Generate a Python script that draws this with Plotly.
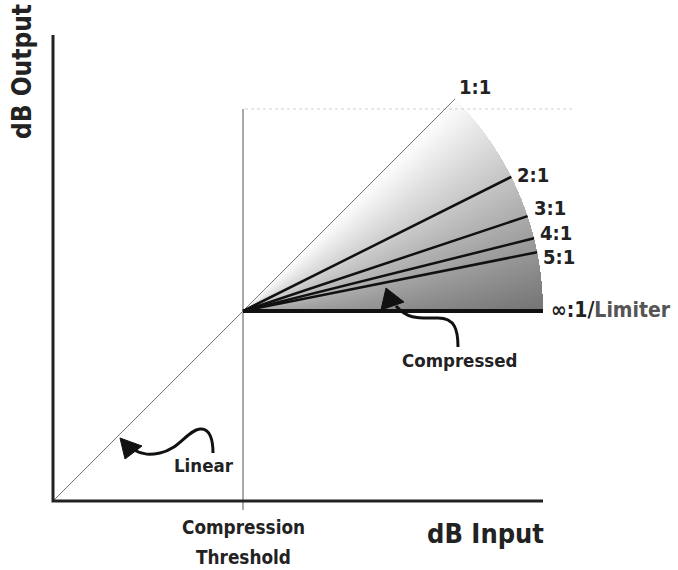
import numpy as np
import plotly.graph_objects as go

# ---- data ----
THRESHOLD = 190          # compression threshold (input = output level)
RADIUS = 300             # length of the ratio lines from the threshold
AXIS_MAX_X = 490
AXIS_MAX_Y = 466
TOP_GUIDE = 392          # faint guide level at top
RATIOS = [2, 3, 4, 5]
RATIO_LABELS = ["2:1", "3:1", "4:1", "5:1"]
LABEL_NUDGE_Y = [2, 8, 5, -5]
FONT = "DejaVu Sans Condensed, Liberation Sans Narrow, Roboto Condensed, DejaVu Sans"
DARK = "#222222"

T, R = THRESHOLD, RADIUS
fig = go.Figure()

# ---- gradient wedge (heatmap masked to the sector) ----
xs = np.arange(T, T + R + 1) + 0.5
top = T + R * np.sin(np.pi / 4)
ys = np.arange(T, int(top) + 2) + 0.5
X, Y = np.meshgrid(xs, ys)
dx, dy = X - T, Y - T
rr = np.hypot(dx, dy)
ang = np.arctan2(dy, dx)
tt = np.clip(ang / (np.pi / 4), 0, 1)
d = (1 - tt) ** 0.95 * (0.65 + 0.35 * rr / R)
lev = 255 - 140 * d
mask = (dy >= 0) & (ang <= np.pi / 4 + 0.003) & (rr <= R)
z = [[float(lev[i, j]) if mask[i, j] else None for j in range(len(xs))] for i in range(len(ys))]
fig.add_trace(go.Heatmap(x=xs, y=ys, z=z, zmin=0, zmax=255,
                         colorscale=[[0, "rgb(0,0,0)"], [1, "rgb(255,255,255)"]],
                         showscale=False, hoverinfo="skip"))

# ---- guide lines ----
fig.add_trace(go.Scatter(x=[T + 2, T + 330], y=[TOP_GUIDE, TOP_GUIDE], mode="lines",
                         line=dict(color="#cfcfcf", width=1, dash="dot"), hoverinfo="skip"))
fig.add_trace(go.Scatter(x=[T, T], y=[-9, TOP_GUIDE], mode="lines",
                         line=dict(color="#555555", width=1), hoverinfo="skip"))
# 1:1 line
e45 = T + R * np.cos(np.pi / 4)
fig.add_trace(go.Scatter(x=[0, e45], y=[0, e45], mode="lines",
                         line=dict(color="#777777", width=1), hoverinfo="skip"))
# infinity line
fig.add_trace(go.Scatter(x=[T, T + R], y=[T, T], mode="lines",
                         line=dict(color="#111111", width=4), hoverinfo="skip"))
# ratio lines
ann = []
for ratio, lab, ny in zip(RATIOS, RATIO_LABELS, LABEL_NUDGE_Y):
    th = np.arctan(1.0 / ratio)
    ex, ey = T + R * np.cos(th), T + R * np.sin(th)
    fig.add_trace(go.Scatter(x=[T, ex], y=[T, ey], mode="lines",
                             line=dict(color="#111111", width=2.5), hoverinfo="skip"))
    ann.append(dict(x=ex + 4, y=ey + ny, text="<b>%s</b>" % lab, xanchor="left",
                    yanchor="middle", font=dict(size=20)))

# axes
fig.add_trace(go.Scatter(x=[0, 0, AXIS_MAX_X], y=[AXIS_MAX_Y, 0, 0], mode="lines",
                         line=dict(color=DARK, width=3), hoverinfo="skip"))

# ---- curvy arrows (pixel-like data coordinates) ----
def P(px, py):
    return "%.1f,%.1f" % (px - 53, 501 - py)

shapes = [
    dict(type="path", xref="x", yref="y",
         path="M " + P(458, 347) + " C " + P(458, 330) + " " + P(455, 318) + " " + P(438, 318)
              + " C " + P(420, 318) + " " + P(408, 320) + " " + P(396, 306),
         line=dict(color="#111111", width=3)),
    dict(type="path", xref="x", yref="y",
         path="M " + P(386, 288) + " L " + P(381, 310) + " L " + P(404, 302) + " Z",
         fillcolor="#111111", line=dict(color="#111111", width=1)),
    dict(type="path", xref="x", yref="y",
         path="M " + P(213, 453) + " C " + P(213, 440) + " " + P(210, 428) + " " + P(200, 429)
              + " C " + P(188, 430) + " " + P(178, 450) + " " + P(160, 453)
              + " C " + P(150, 455) + " " + P(143, 455) + " " + P(134, 450),
         line=dict(color="#111111", width=3)),
    dict(type="path", xref="x", yref="y",
         path="M " + P(120, 438) + " L " + P(125, 459) + " L " + P(142, 446) + " Z",
         fillcolor="#111111", line=dict(color="#111111", width=1)),
]

# ---- text ----
ann += [
    dict(x=e45 + 20, y=e45 + 12, text="<b>1:1</b>", font=dict(size=20)),
    dict(x=T + R + 6, y=T + 1, text="<b>∞:1/<span style='color:#555555'>Limiter</span></b>",
         xanchor="left", yanchor="middle", font=dict(size=21)),
    dict(x=406, y=141, text="<b>Compressed</b>", font=dict(size=18.5)),
    dict(x=151, y=36, text="<b>Linear</b>", font=dict(size=18.5)),
    dict(x=T, y=-26, text="<b>Compression</b>", font=dict(size=18.8)),
    dict(x=T, y=-56, text="<b>Threshold</b>", font=dict(size=18.8)),
    dict(x=432, y=-32, text="<b>dB Input</b>", font=dict(size=27)),
    dict(x=-31, y=429, text="<b>dB Output</b>", textangle=-90, font=dict(size=26)),
]
for a in ann:
    a.setdefault("xref", "x")
    a.setdefault("yref", "y")
    a["showarrow"] = False
    a["font"] = dict(family=FONT, color=DARK, **a["font"])

fig.update_layout(
    width=678, height=570, margin=dict(l=0, r=0, t=0, b=0),
    paper_bgcolor="white", plot_bgcolor="white", showlegend=False,
    xaxis=dict(range=[-53, 625], visible=False, fixedrange=True),
    yaxis=dict(range=[-69, 501], visible=False, fixedrange=True),
    annotations=ann, shapes=shapes,
)
fig.write_html("out.html")
